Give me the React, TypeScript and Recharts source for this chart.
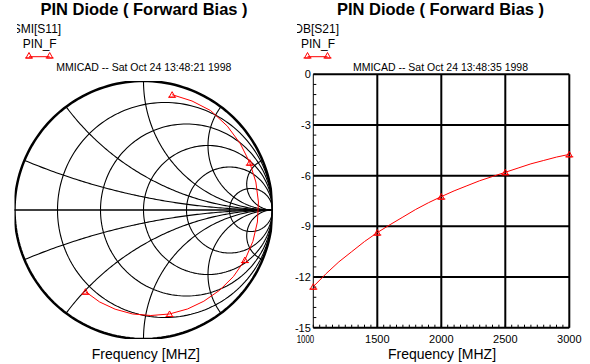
import React from 'react';
import { ComposedChart, LineChart, Line, XAxis, YAxis, ReferenceLine } from 'recharts';

// Sweep points (MHz) shared by both plots
const FREQ_MHZ = [1000, 1100, 1200, 1300, 1400, 1500, 1600, 1700, 1800, 1900, 2000, 2100, 2200, 2300, 2400, 2500, 2600, 2700, 2800, 2900, 3000];
const MARKER_FREQS = [1000, 1500, 2000, 2500, 3000];

const S11_RE = [0.222, 0.376, 0.52, 0.65, 0.75, 0.824, 0.871, 0.891, 0.883, 0.848, 0.786, 0.697, 0.59, 0.468, 0.342, 0.202, 0.057, -0.085, -0.22, -0.34, -0.45];
const S11_IM = [0.894, 0.845, 0.771, 0.65, 0.515, 0.367, 0.217, 0.062, -0.093, -0.243, -0.388, -0.516, -0.622, -0.707, -0.767, -0.806, -0.818, -0.806, -0.769, -0.713, -0.633];

// S21 in dB
const S21_DB = [-12.57, -11.8, -11.1, -10.5, -9.9, -9.37, -8.9, -8.45, -8.0, -7.6, -7.24, -6.9, -6.6, -6.3, -6.05, -5.8, -5.55, -5.3, -5.1, -4.9, -4.74];

const X_MAJOR = [1000, 1500, 2000, 2500, 3000];
const Y_MAJOR = [-15, -12, -9, -6, -3, 0];
const SMITH_R = [0.2, 0.5, 1, 2, 5];
const SMITH_X = [0.2, 0.5, 1, 2, 5];

const X_MINOR = Array.from({ length: 41 }, (_, i) => 1000 + 50 * i);
const Y_MINOR = Array.from({ length: 26 }, (_, i) => Math.round((-15 + 0.6 * i) * 10) / 10);

const FONT = '"Liberation Sans", Arial, sans-serif';
const RED = '#ff0000';

const circlePts = (cx: number, cy: number, rad: number) =>
  Array.from({ length: 181 }, (_, i) => {
    const t = (i / 180) * 2 * Math.PI;
    return { x: cx + rad * Math.cos(t), y: cy + rad * Math.sin(t) };
  });

// constant-reactance arc, swept over r = 0..inf
const arcPts = (xv: number) => {
  const pts = Array.from({ length: 120 }, (_, i) => {
    const r = Math.tan((i / 120) * (Math.PI / 2));
    const den = (r + 1) * (r + 1) + xv * xv;
    return { x: (r * r + xv * xv - 1) / den, y: (2 * xv) / den };
  });
  pts.push({ x: 1, y: 0 });
  return pts;
};

const Tri = ({ cx, cy }: { cx: number; cy: number }) => (
  <g>
    <polygon points={`${cx - 3},${cy + 2.5} ${cx + 3},${cy + 2.5} ${cx},${cy - 3}`} fill="none" stroke={RED} strokeWidth={1} />
    <line x1={cx - 4} x2={cx + 4} y1={cy + 2.5} y2={cy + 2.5} stroke={RED} strokeWidth={1} />
  </g>
);

const markerDot = (props: any) => {
  const { cx, cy, payload, index } = props;
  if (!payload.mark) return <g key={`d-${index}`} />;
  return (
    <g key={`d-${index}`}>
      <Tri cx={cx} cy={cy} />
    </g>
  );
};

const s11Data = FREQ_MHZ.map((f, i) => ({ f, x: S11_RE[i], y: S11_IM[i], mark: MARKER_FREQS.includes(f) }));
const s21Data = FREQ_MHZ.map((f, i) => ({ f, db: S21_DB[i], mark: MARKER_FREQS.includes(f) }));

const XTick = (props: any) => {
  const { x, y, payload } = props;
  if (!X_MAJOR.includes(payload.value)) return <g />;
  // first label is squeezed against the panel edge, as in the original
  if (payload.value === X_MAJOR[0]) {
    return (
      <text x={x - 16.6} y={y + 10} dy="0.71em" textAnchor="start" fill="#000" fontSize={11} fontFamily={FONT} textLength={17.5} lengthAdjust="spacingAndGlyphs">
        {payload.value}
      </text>
    );
  }
  return (
    <text x={x} y={y + 10} dy="0.71em" textAnchor="middle" fill="#000" fontSize={11} fontFamily={FONT}>
      {payload.value}
    </text>
  );
};

const YTick = (props: any) => {
  const { x, y, payload } = props;
  const v = payload.value;
  if (Math.abs(v / 3 - Math.round(v / 3)) > 1e-6) return <g />;
  return (
    <text x={x - 5.5} y={y} dy="0.355em" textAnchor="end" fill="#000" fontSize={11} fontFamily={FONT}>
      {Math.round(v)}
    </text>
  );
};

const SmithChart = () => (
  <ComposedChart width={295} height={364} margin={{ top: 81, right: 22.5, bottom: 25, left: 14.5 }}>
    <XAxis type="number" dataKey="x" domain={[-1, 1]} hide allowDataOverflow />
    <YAxis type="number" domain={[-1, 1]} hide allowDataOverflow />
    {SMITH_R.map((r) => (
      <Line key={`r${r}`} data={circlePts(r / (1 + r), 0, 1 / (1 + r))} dataKey="y" stroke="#000" strokeWidth={1.1} dot={false} isAnimationActive={false} />
    ))}
    {SMITH_X.flatMap((xv) => [xv, -xv]).map((xv) => (
      <Line key={`x${xv}`} data={arcPts(xv)} dataKey="y" stroke="#000" strokeWidth={1.1} dot={false} isAnimationActive={false} />
    ))}
    <ReferenceLine y={0} stroke="#000" strokeWidth={1.6} />
    <Line data={circlePts(0, 0, 1)} dataKey="y" stroke="#000" strokeWidth={2.5} dot={false} isAnimationActive={false} />
    <Line data={s11Data} dataKey="y" stroke={RED} strokeWidth={1} dot={markerDot} isAnimationActive={false} />
  </ComposedChart>
);

const S21Chart = () => (
  <LineChart width={295} height={364} data={s21Data} margin={{ top: 74.3, right: 20.7, bottom: 0, left: 0 }}>
    <XAxis
      type="number"
      dataKey="f"
      domain={[1000, 3000]}
      ticks={X_MINOR}
      interval={0}
      height={36.3}
      tickSize={-3}
      tickMargin={0}
      axisLine={false}
      tickLine={{ stroke: '#000' }}
      tick={<XTick />}
    />
    <YAxis
      type="number"
      domain={[-15, 0]}
      ticks={Y_MINOR}
      interval={0}
      width={18.3}
      tickSize={-3}
      tickMargin={0}
      axisLine={{ stroke: '#000', strokeWidth: 1 }}
      tickLine={{ stroke: '#000' }}
      tick={<YTick />}
    />
    <YAxis
      yAxisId="right"
      orientation="right"
      type="number"
      domain={[-15, 0]}
      ticks={Y_MINOR}
      interval={0}
      width={0}
      tickSize={-3}
      axisLine={false}
      tickLine={{ stroke: '#000' }}
      tick={false}
    />
    {X_MAJOR.filter((v) => v !== X_MAJOR[0]).map((v) => (
      <ReferenceLine key={`vx${v}`} x={v} stroke="#000" strokeWidth={2} />
    ))}
    {Y_MAJOR.map((v) => (
      <ReferenceLine key={`hy${v}`} y={v} stroke="#000" strokeWidth={2} />
    ))}
    <Line type="linear" dataKey="db" stroke={RED} strokeWidth={1} dot={markerDot} isAnimationActive={false} />
  </LineChart>
);

const Overlay = () => (
  <svg width={590} height={364} style={{ position: 'absolute', left: 0, top: 0, pointerEvents: 'none' }} fontFamily={FONT}>
    <defs>
      <clipPath id="clipL">
        <rect x={17} y={0} width={278} height={364} />
      </clipPath>
      <clipPath id="clipR">
        <rect x={297} y={0} width={293} height={364} />
      </clipPath>
    </defs>
    <text x={144} y={15} textAnchor="middle" fontWeight="bold" fontSize={16.5} fill="#000">PIN Diode ( Forward Bias )</text>
    <text x={440.5} y={15} textAnchor="middle" fontWeight="bold" fontSize={16.5} fill="#000">PIN Diode ( Forward Bias )</text>

    <text x={12.7} y={33.3} fontSize={12} fill="#000" clipPath="url(#clipL)">SMI[S11]</text>
    <text x={294.3} y={33.3} fontSize={12} fill="#000" clipPath="url(#clipR)">DB[S21]</text>

    <text x={22.7} y={47.5} fontSize={12} fill="#000">PIN_F</text>
    <text x={301} y={47.5} fontSize={12} fill="#000">PIN_F</text>

    <line x1={29} x2={49.7} y1={56.7} y2={56.7} stroke={RED} strokeWidth={1} />
    <Tri cx={29} cy={55.5} />
    <Tri cx={49.7} cy={55.5} />
    <line x1={307.5} x2={327.5} y1={56.7} y2={56.7} stroke={RED} strokeWidth={1} />
    <Tri cx={307.5} cy={55.5} />
    <Tri cx={327.5} cy={55.5} />

    <text x={143.8} y={70.5} textAnchor="middle" fontSize={10.5} fill="#000">MMICAD -- Sat Oct 24 13:48:21 1998</text>
    <text x={440.5} y={70.5} textAnchor="middle" fontSize={10.5} fill="#000">MMICAD -- Sat Oct 24 13:48:35 1998</text>

    <text x={145.8} y={359} textAnchor="middle" fontSize={14} fill="#000">Frequency [MHZ]</text>
    <text x={442} y={359} textAnchor="middle" fontSize={14} fill="#000">Frequency [MHZ]</text>
  </svg>
);

export default function App() {
  return (
    <div style={{ position: 'absolute', left: 0, top: 0, width: 590, height: 364, background: '#fff', fontFamily: FONT }}>
      <div style={{ position: 'absolute', left: 0, top: 0 }}>
        <SmithChart />
      </div>
      <div style={{ position: 'absolute', left: 295, top: 0 }}>
        <S21Chart />
      </div>
      <Overlay />
    </div>
  );
}
